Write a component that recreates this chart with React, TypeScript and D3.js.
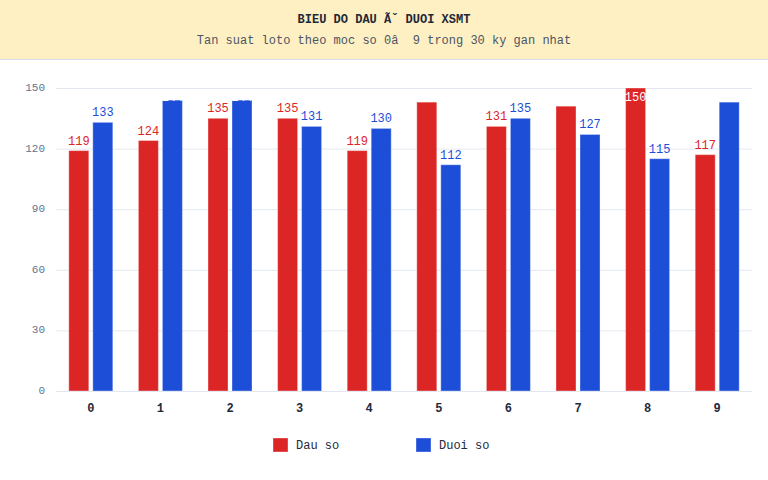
import { useEffect, useRef } from "react";
import * as d3 from "d3";

const digits = ["0", "1", "2", "3", "4", "5", "6", "7", "8", "9"];
const dauSo = [119, 124, 135, 135, 119, 143, 131, 141, 150, 117];
const duoiSo = [133, 144, 144, 131, 130, 112, 135, 127, 115, 143];
const yTicks = [0, 30, 60, 90, 120, 150];
const seriesNames = ["Dau so", "Duoi so"];
const seriesColors = ["#DC2626", "#1D4ED8"];

const FONT = "'Liberation Mono', 'DejaVu Sans Mono', monospace";

type Bar = { digit: string; key: number; value: number };

const App = () => {
  const svgRef = useRef<SVGSVGElement | null>(null);
  const width = 768;
  const height = 480;

  useEffect(() => {
    const svg = d3.select(svgRef.current);
    svg.selectAll("*").remove();

    const margin = { top: 88, right: 16, bottom: 89, left: 56 };

    // header band
    svg.append("rect").attr("x", 0).attr("y", 0).attr("width", width).attr("height", 59).attr("fill", "#FEF0C3");
    svg.append("line").attr("x1", 0).attr("x2", width).attr("y1", 59.5).attr("y2", 59.5).attr("stroke", "#D9DEE6");

    svg
      .append("text")
      .attr("x", width / 2)
      .attr("y", 23)
      .attr("text-anchor", "middle")
      .attr("font-family", FONT)
      .attr("font-size", "12px")
      .attr("font-weight", "bold")
      .attr("fill", "#1f2937")
      .text("BIEU DO DAU \u00C3\u02C7 DUOI XSMT");

    svg
      .append("text")
      .attr("x", width / 2)
      .attr("y", 44)
      .attr("text-anchor", "middle")
      .attr("font-family", FONT)
      .attr("font-size", "12px")
      .attr("fill", "#4b5563")
      .style("white-space", "pre")
      .text("Tan suat loto theo moc so 0\u00E2  9 trong 30 ky gan nhat");

    const x0 = d3
      .scaleBand<string>()
      .domain(digits)
      .range([margin.left, width - margin.right]);

    const x1 = d3
      .scaleBand<number>()
      .domain([0, 1])
      .range([-22, 22])
      .paddingInner(1 / 6);

    const y = d3
      .scaleLinear()
      .domain([0, 150])
      .range([height - margin.bottom, margin.top]);

    // grid + y ticks
    svg
      .append("g")
      .selectAll("line")
      .data(yTicks)
      .join("line")
      .attr("x1", margin.left)
      .attr("x2", width - margin.right)
      .attr("y1", (d) => y(d) + 0.5)
      .attr("y2", (d) => y(d) + 0.5)
      .attr("stroke", "#E3E8F0")
      .attr("stroke-width", 1);

    svg
      .append("g")
      .selectAll("text")
      .data(yTicks)
      .join("text")
      .attr("x", 45)
      .attr("y", (d) => y(d) + 3)
      .attr("text-anchor", "end")
      .attr("font-family", FONT)
      .attr("font-size", "11px")
      .attr("fill", "#64748B")
      .text((d) => d);

    const bars: Bar[] = digits.flatMap((digit, i) => [
      { digit, key: 0, value: dauSo[i] },
      { digit, key: 1, value: duoiSo[i] },
    ]);

    const barX = (d: Bar) => (x0(d.digit) as number) + x0.bandwidth() / 2 + (x1(d.key) as number);

    svg
      .append("g")
      .selectAll("rect")
      .data(bars)
      .join("rect")
      .attr("x", barX)
      .attr("y", (d) => y(d.value))
      .attr("width", x1.bandwidth())
      .attr("height", (d) => y(0) - y(d.value))
      .attr("fill", (d) => seriesColors[d.key])
      .attr("stroke", "rgba(255,255,255,0.35)")
      .attr("stroke-width", 1);

    // value labels, pinned inside the top of the plot; high ones turn white
    svg
      .append("g")
      .selectAll("text")
      .data(bars)
      .join("text")
      .attr("x", (d) => barX(d) + x1.bandwidth() / 2)
      .attr("y", (d) => Math.max(y(d.value) - 6, margin.top + 13))
      .attr("text-anchor", "middle")
      .attr("font-family", FONT)
      .attr("font-size", "12px")
      .attr("fill", (d) => (d.value > 140 ? "#ffffff" : d.key === 0 ? "#DC2626" : "#1D4ED8"))
      .text((d) => d.value);

    // x axis
    svg
      .append("line")
      .attr("x1", margin.left)
      .attr("x2", width - margin.right)
      .attr("y1", y(0) + 0.5)
      .attr("y2", y(0) + 0.5)
      .attr("stroke", "#E3E8F0");

    svg
      .append("g")
      .selectAll("text")
      .data(digits)
      .join("text")
      .attr("x", (d) => (x0(d) as number) + x0.bandwidth() / 2)
      .attr("y", 412)
      .attr("text-anchor", "middle")
      .attr("font-family", FONT)
      .attr("font-size", "12px")
      .attr("font-weight", "bold")
      .attr("fill", "#1e293b")
      .text((d) => d);

    // legend
    const legendX = [273, 416];
    const legend = svg
      .append("g")
      .selectAll("g")
      .data(seriesNames)
      .join("g")
      .attr("transform", (_, i) => `translate(${legendX[i]},438)`);

    legend
      .append("rect")
      .attr("width", 15)
      .attr("height", 14)
      .attr("fill", (_, i) => seriesColors[i])
      .attr("stroke", "rgba(255,255,255,0.35)");

    legend
      .append("text")
      .attr("x", 23)
      .attr("y", 11)
      .attr("font-family", FONT)
      .attr("font-size", "12px")
      .attr("fill", "#1e293b")
      .text((d) => d);
  }, []);

  return (
    <svg
      ref={svgRef}
      width={width}
      height={height}
      style={{ position: "fixed", top: 0, left: 0, background: "#ffffff" }}
    ></svg>
  );
};

export default App;
